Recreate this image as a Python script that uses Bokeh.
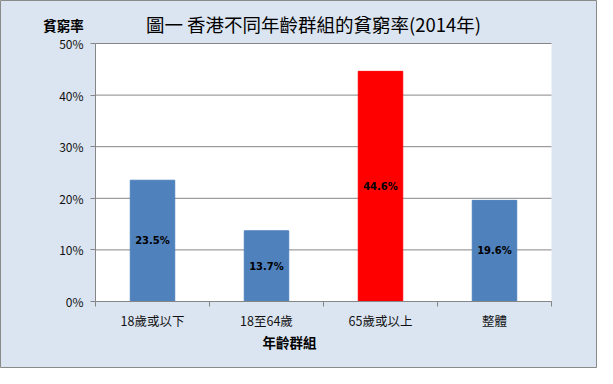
from bokeh.plotting import figure
from bokeh.models import (ColumnDataSource, FixedTicker, Label, LabelSet, Range1d,
                          BoxAnnotation)
from bokeh.embed import file_html
from bokeh.resources import INLINE
from bokeh.core.properties import value

categories = ["18歲或以下", "18至64歲", "65歲或以上", "整體"]
rates = [23.5, 13.7, 44.6, 19.6]
bar_colors = ["#4F81BD", "#4F81BD", "#FF0000", "#4F81BD"]
y_ticks = [0, 10, 20, 30, 40, 50]
title_text = "圖一 香港不同年齡群組的貧窮率(2014年)"
y_title = "貧窮率"
x_title = "年齡群組"

xs = [i + 0.5 for i in range(len(categories))]
src = ColumnDataSource(dict(
    x=xs, top=rates, color=bar_colors,
    label=[f"{r}%" for r in rates], mid=[r / 2 for r in rates],
))

CJK = "Noto Sans CJK TC"
GREY = "#868686"
BG = "#DBE5F1"

# canvas size and margins (px) of the white plotting area inside the canvas
W, H = 597, 368
L, R, T, B = 95, 46, 43, 67
nx, ny = len(categories), max(y_ticks)
px_x = nx / (W - L - R)   # data units per pixel
px_y = ny / (H - T - B)

p = figure(width=W, height=H,
           x_range=Range1d(-L * px_x, nx + R * px_x),
           y_range=Range1d(-B * px_y, ny + T * px_y),
           output_backend="svg", toolbar_location=None,
           min_border=0, background_fill_color=BG, border_fill_color=BG)
p.outline_line_color = "#8A8A8A"
p.outline_line_width = 1

p.add_layout(BoxAnnotation(left=0, right=nx, bottom=0, top=ny,
                           fill_color="white", fill_alpha=1,
                           line_color=None, level="underlay"))
p.xgrid.grid_line_color = None
p.ygrid.grid_line_color = None
p.segment(x0=0, x1=nx, y0=y_ticks, y1=y_ticks, line_color=GREY, line_width=1)

p.vbar(x="x", top="top", bottom=0, width=0.39, color="color", source=src)
p.add_layout(LabelSet(x="x", y="mid", text="label", source=src,
                      text_align="center", text_baseline="middle",
                      text_font=value("DejaVu Sans"), text_font_style="bold",
                      text_font_size="10px", text_color="black"))

xa = p.xaxis[0]
xa.fixed_location = 0
xa.bounds = (0, nx)
xa.ticker = FixedTicker(ticks=xs, minor_ticks=list(range(nx + 1)))
xa.major_label_overrides = {x: c for x, c in zip(xs, categories)}
xa.major_tick_line_color = None
xa.minor_tick_line_color = GREY
xa.minor_tick_out = 5
xa.minor_tick_in = 0
xa.axis_line_color = GREY
xa.major_label_standoff = 3
xa.major_label_text_font = CJK
xa.major_label_text_font_size = "12.5px"
xa.major_label_text_color = "#111111"

ya = p.yaxis[0]
ya.fixed_location = 0
ya.bounds = (0, ny)
ya.ticker = FixedTicker(ticks=y_ticks)
ya.major_label_overrides = {t: f"{t}%" for t in y_ticks}
ya.major_tick_line_color = GREY
ya.major_tick_out = 5
ya.major_tick_in = 0
ya.minor_tick_line_color = None
ya.axis_line_color = GREY
ya.major_label_standoff = 7
ya.major_label_text_font = CJK
ya.major_label_text_font_size = "12px"
ya.major_label_text_color = "#111111"

p.add_layout(Label(x=nx / 2 - 10 * px_x, y=ny + 20 * px_y,
                   text=title_text, text_align="center", text_baseline="middle",
                   text_font=CJK, text_font_size="18.5px", text_color="black"))
p.add_layout(Label(x=-32 * px_x, y=ny + 19 * px_y,
                   text=y_title, text_align="center", text_baseline="middle",
                   text_font=CJK, text_font_style="bold", text_font_size="13.5px",
                   text_color="black"))
p.add_layout(Label(x=194 * px_x, y=-40 * px_y,
                   text=x_title, text_align="center", text_baseline="middle",
                   text_font=CJK, text_font_style="bold", text_font_size="13.5px",
                   text_color="black"))

open("out.html", "w").write(file_html(p, INLINE))
